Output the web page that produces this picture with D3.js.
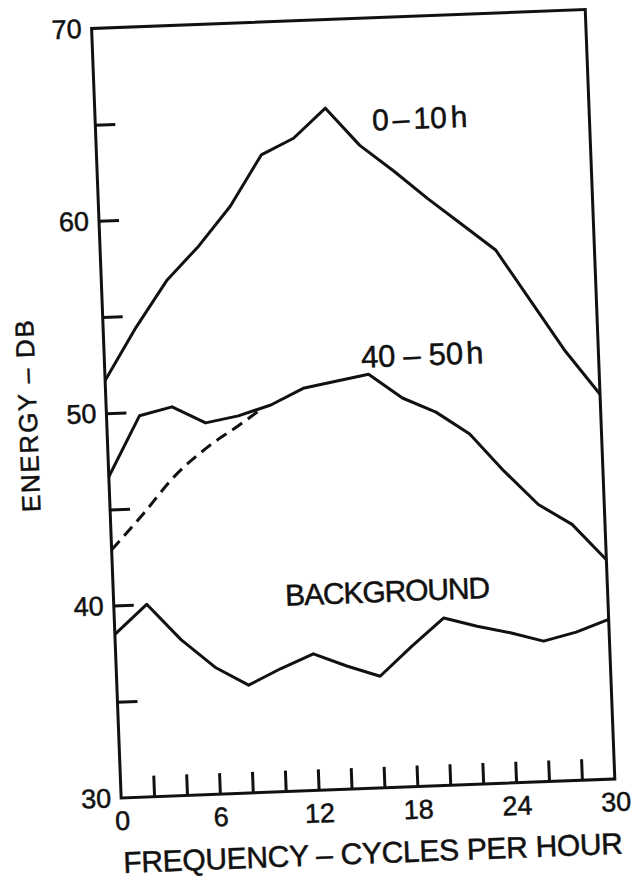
<!DOCTYPE html>
<html>
<head>
<meta charset="utf-8">
<script src="https://cdn.jsdelivr.net/npm/d3@7"></script>
<style>
  body { margin: 0; background: #fff; }
  svg { display: block; }
  text { font-family: "Liberation Sans", Arial, sans-serif; fill: #111; stroke: #111; stroke-width: 0.5px; }
</style>
</head>
<body>
<div id="viz"></div>
<script>
// frequency in cycles per hour, one reading every 2
const freq = [0, 2, 4, 6, 8, 10, 12, 14, 16, 18, 20, 22, 24, 26, 28, 30];

// energy in dB
const hours0to10 = [51.7, 54.4, 56.8, 58.5, 60.5, 63.1, 63.9, 65.4, 63.4, 62.0, 60.5, 59.1, 57.7, 55.0, 52.3, 50.0];
const hours40to50 = [46.7, 49.8, 50.2, 49.3, 49.6, 50.1, 50.9, 51.2, 51.5, 50.2, 49.4, 48.2, 46.2, 44.4, 43.3, 41.4];
const background = [38.5, 40.0, 38.1, 36.6, 35.6, 36.4, 37.1, 36.4, 35.8, 37.3, 38.7, 38.2, 37.8, 37.3, 37.7, 38.3];

// dashed branch of the 40-50h curve
const dashedFreq = [0, 2, 4, 6, 8, 9.4];
const dashedEnergy = [42.9, 44.7, 46.6, 48.0, 49.1, 49.9];

const yTicks = [35, 40, 45, 50, 55, 60, 65];
const yLabels = [30, 40, 50, 60, 70];
const xTicks = [2, 4, 6, 8, 10, 12, 14, 16, 18, 20, 22, 24, 26, 28];
const xLabels = [0, 6, 12, 18, 24, 30];

const width = 494;
const height = 770;
const ink = '#111';
const lineWidth = 3;

const svg = d3.select('#viz').append('svg')
    .attr('width', 640)
    .attr('height', 881)
    .style('background', '#fff');

// the scanned page sits a little crooked, so the whole plot is turned
const chart = svg.append('g')
    .attr('transform', 'translate(353.2,403.75) rotate(-2.2) translate(' + (-width / 2) + ',' + (-height / 2) + ')');

const x = d3.scaleLinear().domain([0, 30]).range([0, width]);
const y = d3.scaleLinear().domain([30, 70]).range([height, 0]);

// inward ticks
chart.append('g')
    .attr('color', ink)
    .call(d3.axisLeft(y).tickValues(yTicks).tickSize(-20).tickSizeOuter(0).tickFormat(''))
    .call(g => g.select('.domain').remove())
    .selectAll('line').attr('stroke-width', lineWidth);

chart.append('g')
    .attr('color', ink)
    .attr('transform', 'translate(0,' + height + ')')
    .call(d3.axisBottom(x).tickValues(xTicks).tickSize(-21).tickSizeOuter(0).tickFormat(''))
    .call(g => g.select('.domain').remove())
    .selectAll('line').attr('stroke-width', lineWidth);

// tick labels outside the frame
chart.append('g')
    .call(d3.axisLeft(y).tickValues(yLabels).tickSize(0).tickPadding(10))
    .call(g => g.select('.domain').remove())
    .selectAll('text')
    .attr('font-size', 27)
    .style('fill', ink);

chart.append('g')
    .attr('transform', 'translate(0,' + height + ')')
    .call(d3.axisBottom(x).tickValues(xLabels).tickSize(0).tickPadding(13))
    .call(g => g.select('.domain').remove())
    .selectAll('text')
    .attr('font-size', 27)
    .style('fill', ink);

// frame
chart.append('rect')
    .attr('width', width)
    .attr('height', height)
    .attr('fill', 'none')
    .attr('stroke', ink)
    .attr('stroke-width', lineWidth);

const line = d3.line()
    .x((d, i) => x(freq[i]))
    .y(d => y(d));

[hours0to10, hours40to50, background].forEach(series => {
    chart.append('path')
        .datum(series)
        .attr('d', line)
        .attr('fill', 'none')
        .attr('stroke', ink)
        .attr('stroke-width', lineWidth)
        .attr('stroke-linejoin', 'round');
});

const dashedLine = d3.line()
    .curve(d3.curveMonotoneX)
    .x((d, i) => x(dashedFreq[i]))
    .y(d => y(d));

chart.append('path')
    .datum(dashedEnergy)
    .attr('d', dashedLine)
    .attr('fill', 'none')
    .attr('stroke', ink)
    .attr('stroke-width', lineWidth)
    .attr('stroke-dasharray', '12,7');

// curve labels, spaced out like the hand lettering
const label1 = chart.append('text')
    .attr('x', x(19.7))
    .attr('y', y(64.15))
    .attr('text-anchor', 'middle')
    .attr('font-size', 30);
label1.append('tspan').text('0');
label1.append('tspan').attr('dx', 4).text('–');
label1.append('tspan').attr('dx', 4).text('10');
label1.append('tspan').attr('dx', 4).text('h');

const label2 = chart.append('text')
    .attr('x', x(19.3))
    .attr('y', y(51.85))
    .attr('text-anchor', 'middle')
    .attr('font-size', 31);
label2.append('tspan').text('40');
label2.append('tspan').attr('dx', 8).text('–');
label2.append('tspan').attr('dx', 8).text('50');
label2.append('tspan').attr('dx', 3).text('h');

chart.append('text')
    .attr('x', x(16.65))
    .attr('y', y(39.65))
    .attr('text-anchor', 'middle')
    .attr('font-size', 30)
    .attr('textLength', 205)
    .text('BACKGROUND');

// axis titles
chart.append('text')
    .attr('transform', 'translate(-79,385) rotate(-90)')
    .attr('text-anchor', 'middle')
    .attr('dy', '0.36em')
    .attr('font-size', 26)
    .attr('textLength', 192)
    .text('ENERGY – DB');

chart.append('text')
    .attr('x', width / 2 + 2.6)
    .attr('y', height + 75)
    .attr('text-anchor', 'middle')
    .attr('font-size', 30)
    .attr('textLength', 500)
    .text('FREQUENCY – CYCLES PER HOUR');
</script>
</body>
</html>
